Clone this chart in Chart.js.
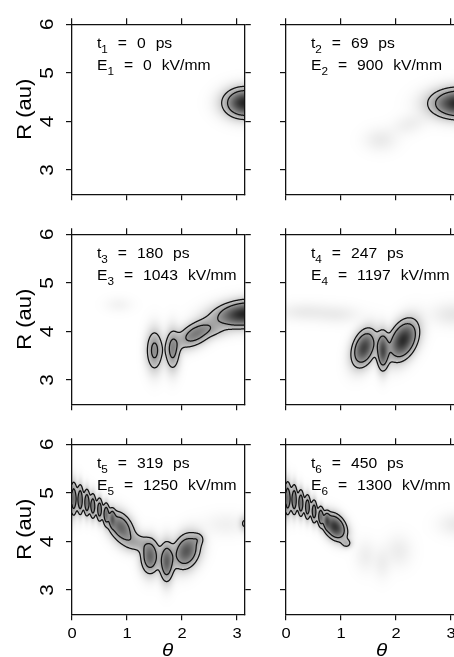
<!DOCTYPE html>
<html><head><meta charset="utf-8">
<script src="https://cdn.jsdelivr.net/npm/chart.js"></script>
<style>
html,body{margin:0;padding:0;background:#fff;overflow:hidden;width:454px;height:657px;position:relative;}
canvas{position:absolute;left:0;top:0;}
</style></head><body>
<script>
// ---------------- data ----------------
const xTicks = [0, 1, 2, 3];
const yTicks = [3, 4, 5, 6];
const xRange = [0, Math.PI];
const yRange = [2.5, 6];
const timesPs = [0, 69, 180, 247, 319, 450];
const fieldsKVmm = [0, 900, 1043, 1197, 1250, 1300];
const contourLevels = [0.15, 0.35];
const xTitle = 'θ';
const yTitle = 'R (au)';
// blob components: [theta, R, sigmaU, sigmaW, amplitude, tiltDeg]
const blobs1 = [
  [3.14, 4.38, 0.215, 0.175, 1.0, 0]
];
const blobs2 = [
  [3.14, 4.37, 0.29, 0.175, 1.0, 0],
  [1.72, 3.62, 0.18, 0.15, 0.04, 0],
  [2.25, 3.95, 0.22, 0.13, 0.03, 25]
];
const blobs3 = [
  [1.50, 3.61, 0.09, 0.25, 0.42, 0],
  [1.83, 3.62, 0.08, 0.25, 0.42, 0],
  [2.25, 3.95, 0.24, 0.13, 0.50, 35],
  [2.60, 4.02, 0.15, 0.10, 0.10, 0],
  [3.14, 4.36, 0.32, 0.155, 1.0, 8],
  [0.85, 4.55, 0.15, 0.10, 0.02, 0]
];
const blobs4 = [
  [1.42, 3.66, 0.12, 0.23, 0.82, -15],
  [1.76, 3.60, 0.065, 0.23, 0.72, 0],
  [2.13, 3.82, 0.14, 0.25, 0.95, -20],
  [0.35, 4.40, 0.30, 0.12, 0.04, 0],
  [0.95, 4.35, 0.25, 0.12, 0.035, 0],
  [3.05, 4.35, 0.25, 0.15, 0.05, 0]
];
const blobs5 = [
  [0.03, 4.88, 0.04, 0.21, 0.55, 0],
  [0.15, 4.86, 0.035, 0.19, 0.55, 0],
  [0.27, 4.80, 0.035, 0.17, 0.55, 0],
  [0.38, 4.73, 0.035, 0.16, 0.52, 0],
  [0.50, 4.66, 0.035, 0.15, 0.50, 0],
  [0.62, 4.57, 0.035, 0.14, 0.48, 0],
  [0.73, 4.48, 0.035, 0.12, 0.40, 0],
  [0.89, 4.29, 0.125, 0.21, 0.62, 25],
  [1.18, 3.97, 0.15, 0.12, 0.22, -10],
  [1.42, 3.69, 0.10, 0.21, 0.62, 0],
  [1.72, 3.58, 0.075, 0.24, 0.62, 0],
  [2.08, 3.80, 0.14, 0.22, 0.70, -15],
  [2.30, 4.05, 0.07, 0.08, 0.15, 0],
  [3.14, 4.37, 0.06, 0.10, 0.17, 0],
  [2.80, 4.35, 0.25, 0.15, 0.025, 0]
];
const blobs6 = [
  [0.03, 4.89, 0.04, 0.21, 0.55, 0],
  [0.15, 4.86, 0.035, 0.19, 0.55, 0],
  [0.27, 4.79, 0.035, 0.17, 0.55, 0],
  [0.39, 4.71, 0.035, 0.16, 0.52, 0],
  [0.51, 4.62, 0.035, 0.15, 0.50, 0],
  [0.63, 4.52, 0.035, 0.13, 0.48, 0],
  [0.74, 4.44, 0.035, 0.11, 0.40, 0],
  [0.89, 4.30, 0.11, 0.17, 0.90, 25],
  [1.10, 3.96, 0.06, 0.06, 0.20, 0],
  [1.45, 3.70, 0.12, 0.20, 0.03, 0],
  [1.75, 3.55, 0.10, 0.20, 0.03, 0],
  [2.05, 3.80, 0.15, 0.20, 0.035, 0],
  [3.10, 4.35, 0.20, 0.15, 0.04, 0]
];
const panelBlobs = [blobs1, blobs2, blobs3, blobs4, blobs5, blobs6];

// ---------------- layout / style ----------------
const W = 470, H = 657;
const COL_LEFT = [72, 286];
const ROW_TOP = [24.3, 234.3, 444.3];
const UNIT_X = 55, UNIT_Y = 48.57;
const PW = (xRange[1] - xRange[0]) * UNIT_X;
const PH = (yRange[1] - yRange[0]) * UNIT_Y;
const TICK = 6;
const INK = '#111';
const FONT = '"Liberation Sans", Arial, sans-serif';

function grayOf(v) {
  const t = Math.pow(Math.min(Math.max(v, 0), 1), 0.75) * 0.86;
  return Math.round(255 * (1 - t));
}

function makeField(points) {
  const bl = points.map(p => {
    const r = p.rot * Math.PI / 180;
    return {x: p.x, y: p.y, iu: 1 / (p.su * p.su), iw: 1 / (p.sw * p.sw), a: p.a, c: Math.cos(r), s: Math.sin(r)};
  });
  return (t, R) => {
    let sum = 0;
    for (const b of bl) {
      const dt = t - b.x, dr = R - b.y;
      const u = dt * b.c + dr * b.s, w = -dt * b.s + dr * b.c;
      const e = 0.5 * (u * u * b.iu + w * w * b.iw);
      if (e < 25) sum += b.a * Math.exp(-e);
    }
    return sum;
  };
}

const densityPlugin = {
  id: 'density',
  beforeDraw(chart) {
    const ctx = chart.ctx, area = chart.chartArea;
    const xs = chart.scales.x, ys = chart.scales.y;
    const f = makeField(chart.data.datasets[0].data);
    const x0 = Math.floor(area.left), x1 = Math.ceil(area.right);
    const y0 = Math.floor(area.top), y1 = Math.ceil(area.bottom);
    const w = x1 - x0, h = y1 - y0;
    const off = document.createElement('canvas');
    off.width = w; off.height = h;
    const octx = off.getContext('2d');
    const img = octx.createImageData(w, h);
    const tv = [], rv = [];
    for (let i = 0; i < w; i++) tv.push(xs.getValueForPixel(x0 + i + 0.5));
    for (let j = 0; j < h; j++) rv.push(ys.getValueForPixel(y0 + j + 0.5));
    for (let j = 0; j < h; j++) for (let i = 0; i < w; i++) {
      const g = grayOf(f(tv[i], rv[j]));
      const k = (j * w + i) * 4;
      img.data[k] = g; img.data[k + 1] = g; img.data[k + 2] = g; img.data[k + 3] = 255;
    }
    octx.putImageData(img, 0, 0);
    ctx.save();
    ctx.beginPath();
    ctx.rect(area.left, area.top, area.right - area.left, area.bottom - area.top);
    ctx.clip();
    ctx.drawImage(off, x0, y0);
    const nx = 316, ny = 351;
    const gx = [], gy = [];
    for (let i = 0; i < nx; i++) gx.push(xRange[0] + (xRange[1] - xRange[0]) * i / (nx - 1));
    for (let j = 0; j < ny; j++) gy.push(yRange[0] + (yRange[1] - yRange[0]) * j / (ny - 1));
    const F = new Float64Array(nx * ny);
    for (let j = 0; j < ny; j++) for (let i = 0; i < nx; i++) F[j * nx + i] = f(gx[i], gy[j]);
    ctx.strokeStyle = INK;
    ctx.lineWidth = 1.25;
    ctx.lineCap = 'round';
    ctx.lineJoin = 'round';
    for (const L of contourLevels) {
      ctx.beginPath();
      for (let j = 0; j < ny - 1; j++) for (let i = 0; i < nx - 1; i++) {
        const v0 = F[j * nx + i], v1 = F[j * nx + i + 1], v2 = F[(j + 1) * nx + i + 1], v3 = F[(j + 1) * nx + i];
        const c = (v0 > L ? 1 : 0) | (v1 > L ? 2 : 0) | (v2 > L ? 4 : 0) | (v3 > L ? 8 : 0);
        if (c === 0 || c === 15) continue;
        const P = (e) => {
          let ax, ay, bx, by, va, vb;
          if (e === 0) { ax = gx[i]; ay = gy[j]; bx = gx[i + 1]; by = gy[j]; va = v0; vb = v1; }
          else if (e === 1) { ax = gx[i + 1]; ay = gy[j]; bx = gx[i + 1]; by = gy[j + 1]; va = v1; vb = v2; }
          else if (e === 2) { ax = gx[i + 1]; ay = gy[j + 1]; bx = gx[i]; by = gy[j + 1]; va = v2; vb = v3; }
          else { ax = gx[i]; ay = gy[j + 1]; bx = gx[i]; by = gy[j]; va = v3; vb = v0; }
          const t = (L - va) / (vb - va);
          return [xs.getPixelForValue(ax + (bx - ax) * t), ys.getPixelForValue(ay + (by - ay) * t)];
        };
        let segs;
        const center = (v0 + v1 + v2 + v3) / 4 > L;
        switch (c) {
          case 1: segs = [[3, 0]]; break;
          case 2: segs = [[0, 1]]; break;
          case 3: segs = [[3, 1]]; break;
          case 4: segs = [[1, 2]]; break;
          case 5: segs = center ? [[0, 1], [2, 3]] : [[3, 0], [1, 2]]; break;
          case 6: segs = [[0, 2]]; break;
          case 7: segs = [[3, 2]]; break;
          case 8: segs = [[2, 3]]; break;
          case 9: segs = [[0, 2]]; break;
          case 10: segs = center ? [[3, 0], [1, 2]] : [[0, 1], [2, 3]]; break;
          case 11: segs = [[1, 2]]; break;
          case 12: segs = [[1, 3]]; break;
          case 13: segs = [[0, 1]]; break;
          case 14: segs = [[3, 0]]; break;
        }
        for (const [ea, eb] of segs) {
          const a = P(ea), b = P(eb);
          ctx.moveTo(a[0], a[1]);
          ctx.lineTo(b[0], b[1]);
        }
      }
      ctx.stroke();
    }
    ctx.restore();
  }
};

function drawText(ctx, str, x, y, o) {
  ctx.save();
  ctx.translate(x, y);
  if (o.rot) ctx.rotate(o.rot);
  ctx.scale(o.sx || 1, 1);
  ctx.font = (o.italic ? 'italic ' : '') + o.size + 'px ' + FONT;
  ctx.fillStyle = '#000';
  ctx.textAlign = o.align || 'left';
  ctx.textBaseline = 'alphabetic';
  ctx.fillText(str, 0, 0);
  ctx.restore();
}

function drawRich(ctx, x, y, tokens) {
  ctx.save();
  ctx.translate(x, y);
  ctx.scale(1.12, 1);
  ctx.fillStyle = '#000';
  ctx.textBaseline = 'alphabetic';
  ctx.textAlign = 'left';
  let cur = 0;
  for (const tk of tokens) {
    if (tk.gap) {
      ctx.font = '14px ' + FONT;
      cur += ctx.measureText(' ').width + 5.0;
      continue;
    }
    ctx.font = (tk.sub ? '10.5px ' : '14px ') + FONT;
    ctx.fillText(tk.t, cur, tk.sub ? 4.5 : 0);
    cur += ctx.measureText(tk.t).width;
  }
  ctx.restore();
}

const textPlugin = {
  id: 'panelText',
  afterDraw(chart, args, opts) {
    const ctx = chart.ctx, area = chart.chartArea;
    const xs = chart.scales.x, ys = chart.scales.y;
    const i = opts.index, col = opts.col, row = opts.row;
    const n = String(i + 1);
    drawRich(ctx, area.left + 25, area.top + 24, [
      {t: 't'}, {t: n, sub: true}, {gap: true}, {t: '='}, {gap: true}, {t: String(timesPs[i])}, {gap: true}, {t: 'ps'}
    ]);
    drawRich(ctx, area.left + 25, area.top + 45.7, [
      {t: 'E'}, {t: n, sub: true}, {gap: true}, {t: '='}, {gap: true}, {t: String(fieldsKVmm[i])}, {gap: true}, {t: 'kV/mm'}
    ]);
    if (col === 0) {
      for (const v of yTicks) {
        drawText(ctx, String(v), area.left - 18.7, ys.getPixelForValue(v), {size: 18, sx: 1.15, rot: -Math.PI / 2, align: 'center'});
      }
      drawText(ctx, yTitle, area.left - 41.3, (area.top + area.bottom) / 2, {size: 20, sx: 1.1, rot: -Math.PI / 2, align: 'center'});
    }
    if (row === 2) {
      for (const v of xTicks) {
        drawText(ctx, String(v), xs.getPixelForValue(v), area.bottom + 24, {size: 15, sx: 1.1, align: 'center'});
      }
      drawText(ctx, xTitle, area.left + 95.5, area.bottom + 42.2, {size: 18, sx: 1.15, italic: true, align: 'center'});
    }
  }
};

function mkAxis(position, isX) {
  return {
    type: 'linear',
    position: position,
    min: isX ? xRange[0] : yRange[0],
    max: isX ? xRange[1] : yRange[1],
    afterBuildTicks: s => { s.ticks = (isX ? xTicks : yTicks).map(v => ({value: v})); },
    ticks: {display: false},
    grid: {display: true, drawOnChartArea: false, drawTicks: true, tickLength: TICK, tickWidth: 1.2, tickColor: INK, color: INK, lineWidth: 1.2},
    border: {display: true, color: INK, width: 1.3},
    title: {display: false},
    afterFit: s => { if (isX) s.height = TICK; else s.width = TICK; }
  };
}

panelBlobs.forEach((blobs, i) => {
  const col = i % 2, row = Math.floor(i / 2);
  const L = COL_LEFT[col], T = ROW_TOP[row];
  const cv = document.createElement('canvas');
  cv.width = W; cv.height = H;
  cv.style.width = W + 'px'; cv.style.height = H + 'px';
  document.body.appendChild(cv);
  new Chart(cv, {
    type: 'scatter',
    data: {
      datasets: [{
        data: blobs.map(b => ({x: b[0], y: b[1], su: b[2], sw: b[3], a: b[4], rot: b[5]})),
        pointRadius: 0, pointHoverRadius: 0, showLine: false
      }]
    },
    options: {
      responsive: false,
      animation: false,
      devicePixelRatio: 1,
      events: [],
      layout: {
        autoPadding: false,
        padding: {left: L - TICK, top: T - TICK, right: W - (L + PW) - TICK, bottom: H - (T + PH) - TICK}
      },
      plugins: {
        legend: {display: false},
        tooltip: {enabled: false},
        panelText: {index: i, col: col, row: row}
      },
      scales: {
        x: mkAxis('bottom', true),
        x2: mkAxis('top', true),
        y: mkAxis('left', false),
        y2: mkAxis('right', false)
      }
    },
    plugins: [densityPlugin, textPlugin]
  });
});
</script>
</body></html>
